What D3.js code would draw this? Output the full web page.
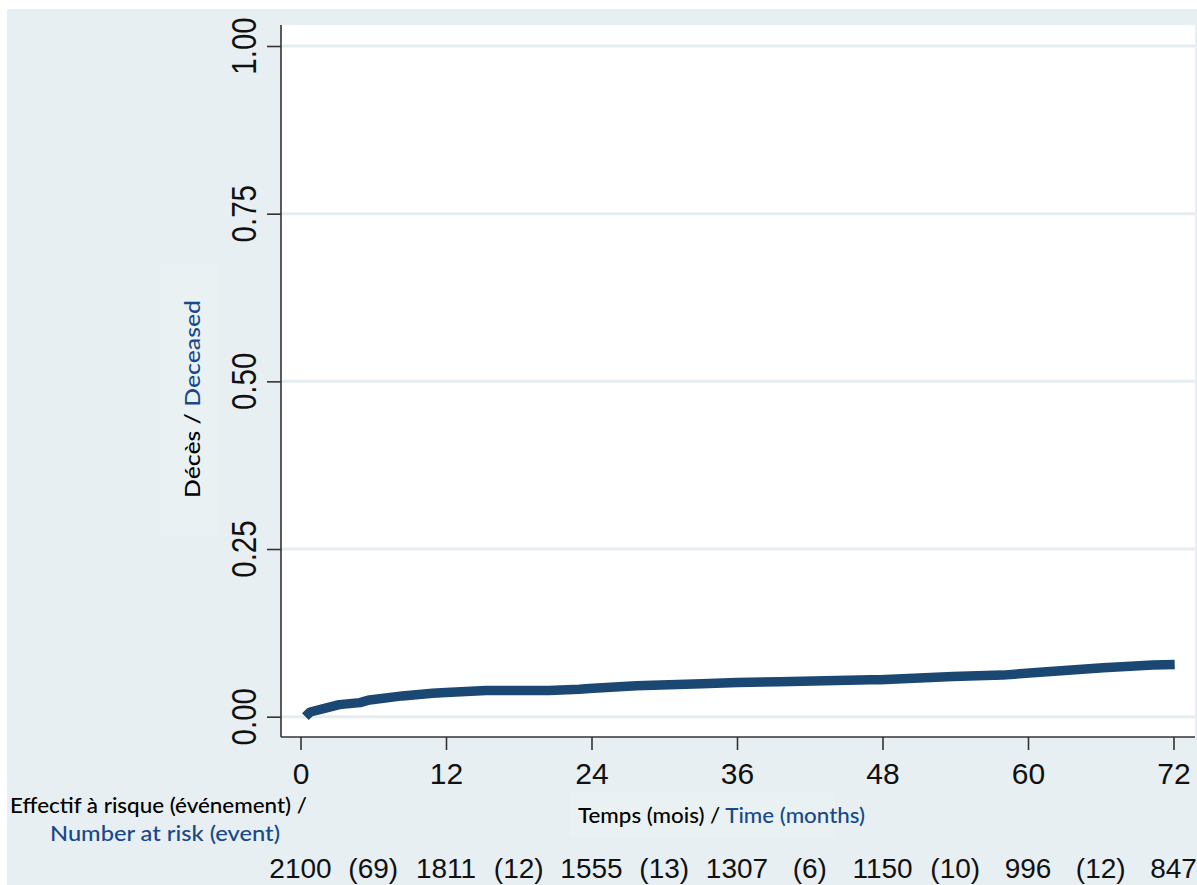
<!DOCTYPE html>
<html>
<head>
<meta charset="utf-8">
<script src="https://cdn.jsdelivr.net/npm/d3@7"></script>
<style>
  body { margin: 0; background: #fff; }
  svg { display: block; }
</style>
</head>
<body>
<div id="chart"></div>
<script>
// Cumulative incidence (months, proportion deceased)
const months = [0.4, 0.8, 1.9, 3.2, 4.9, 5.7, 8.4, 10.9, 12.0, 15.3, 20.5, 23.0, 23.8, 27.7,
  33.1, 36.0, 39.5, 47.0, 47.8, 53.8, 57.9, 60.7, 66.2, 70.3, 72.1];
const deceased = [0.000, 0.007, 0.012, 0.018, 0.021, 0.025, 0.031, 0.035, 0.036, 0.039, 0.039,
  0.041, 0.042, 0.046, 0.049, 0.051, 0.052, 0.055, 0.055, 0.060, 0.062, 0.066, 0.073, 0.077, 0.078];

// Risk table
const xTicks = [0, 12, 24, 36, 48, 60, 72];
const atRisk = [2100, 1811, 1555, 1307, 1150, 996, 847];
const events = [69, 12, 13, 6, 10, 12];
const yTicks = [0, 0.25, 0.5, 0.75, 1];

const width = 1197;
const height = 885;
const bg = "#e8eff2";
const blue = "#17488a";
const lineColor = "#1b4872";
const sans = "Lato, 'Open Sans', sans-serif";
const arial = "'Liberation Sans', Arial, sans-serif";

const svg = d3.select("#chart")
  .append("svg")
  .attr("width", width)
  .attr("height", height);

// Outer background and plot region
svg.append("rect")
  .attr("x", 7).attr("y", 9)
  .attr("width", width - 7).attr("height", height - 9)
  .attr("fill", bg);

const plot = { left: 281, right: 1195, top: 25, bottom: 737 };

svg.append("rect")
  .attr("x", plot.left).attr("y", plot.top)
  .attr("width", plot.right - plot.left)
  .attr("height", plot.bottom - plot.top)
  .attr("fill", "#fff");

// Scales
const x = d3.scaleLinear().domain([0, 72]).range([300.5, 1173.5]);
const y = d3.scaleLinear().domain([0, 1]).range([716.7, 46]);

// Gridlines
svg.append("g")
  .selectAll("line")
  .data(yTicks)
  .enter()
  .append("line")
  .attr("x1", plot.left)
  .attr("x2", plot.right)
  .attr("y1", (d) => y(d))
  .attr("y2", (d) => y(d))
  .attr("stroke", "#e5edf0")
  .attr("stroke-width", 3);

// X axis
const xAxis = d3.axisBottom(x)
  .tickValues(xTicks)
  .tickSize(13)
  .tickPadding(13)
  .tickFormat(d3.format("d"));

const gx = svg.append("g")
  .attr("transform", `translate(0, ${plot.bottom})`)
  .call(xAxis);
gx.select(".domain").remove();
gx.selectAll(".tick line").attr("stroke", "#333").attr("stroke-width", 1.6);
gx.selectAll(".tick text")
  .attr("fill", "#111")
  .style("font-family", arial)
  .style("font-size", "30px");

// Y axis (ticks only, labels rotated like the original)
const yAxis = d3.axisLeft(y)
  .tickValues(yTicks)
  .tickSize(14)
  .tickFormat("");

const gy = svg.append("g")
  .attr("transform", `translate(${plot.left}, 0)`)
  .call(yAxis);
gy.select(".domain").remove();
gy.selectAll(".tick line").attr("stroke", "#333").attr("stroke-width", 1.6);

svg.append("g")
  .selectAll("text")
  .data(yTicks)
  .enter()
  .append("text")
  .attr("transform", (d) => `translate(256, ${y(d)}) rotate(-90) scale(1, 1.2)`)
  .attr("text-anchor", "middle")
  .attr("fill", "#111")
  .style("font-family", arial)
  .style("font-size", "29.5px")
  .text((d) => d3.format(".2f")(d));

// Axis lines
svg.append("line")
  .attr("x1", plot.left).attr("x2", plot.left)
  .attr("y1", plot.top).attr("y2", plot.bottom)
  .attr("stroke", "#333").attr("stroke-width", 1.6);
svg.append("line")
  .attr("x1", plot.left).attr("x2", plot.right)
  .attr("y1", plot.bottom).attr("y2", plot.bottom)
  .attr("stroke", "#333").attr("stroke-width", 1.6);

// Curve
const points = months.map((m, i) => [m, deceased[i]]);
const line = d3.line()
  .x((d) => x(d[0]))
  .y((d) => y(d[1]));

svg.append("path")
  .datum(points)
  .attr("d", line)
  .attr("fill", "none")
  .attr("stroke", lineColor)
  .attr("stroke-width", 9.5)
  .attr("stroke-linejoin", "round");

// Y title
svg.append("rect")
  .attr("x", 160).attr("y", 265)
  .attr("width", 58).attr("height", 270)
  .attr("fill", "#eaf1f3");

const yTitle = svg.append("text")
  .attr("transform", "translate(200, 300) rotate(-90)")
  .attr("x", -198)
  .attr("textLength", 198)
  .attr("lengthAdjust", "spacingAndGlyphs")
  .style("font-family", sans)
  .style("font-size", "22px")
  .style("font-weight", 500);
yTitle.append("tspan").attr("fill", "#000").text("Décès / ");
yTitle.append("tspan").attr("fill", blue).text("Deceased");

// X title
svg.append("rect")
  .attr("x", 570).attr("y", 792)
  .attr("width", 265).attr("height", 46)
  .attr("fill", "#eaf1f3");

const xTitle = svg.append("text")
  .attr("x", 578).attr("y", 823)
  .attr("textLength", 287)
  .attr("lengthAdjust", "spacingAndGlyphs")
  .style("font-family", sans)
  .style("font-size", "21.5px")
  .style("font-weight", 500);
xTitle.append("tspan").attr("fill", "#000").text("Temps (mois) / ");
xTitle.append("tspan").attr("fill", blue).text("Time (months)");

// Risk table title
svg.append("text")
  .attr("x", 10).attr("y", 813)
  .attr("textLength", 297)
  .attr("lengthAdjust", "spacingAndGlyphs")
  .attr("fill", "#000")
  .style("font-family", sans)
  .style("font-size", "21px")
  .style("font-weight", 500)
  .text("Effectif à risque (événement) /");

svg.append("text")
  .attr("x", 50).attr("y", 841)
  .attr("textLength", 230)
  .attr("lengthAdjust", "spacingAndGlyphs")
  .attr("fill", blue)
  .style("font-family", sans)
  .style("font-size", "21px")
  .style("font-weight", 500)
  .text("Number at risk (event)");

// Risk table numbers
svg.append("g")
  .selectAll("text")
  .data(atRisk)
  .enter()
  .append("text")
  .attr("x", (d, i) => x(xTicks[i]))
  .attr("y", 878)
  .attr("text-anchor", "middle")
  .attr("fill", "#111")
  .style("font-family", arial)
  .style("font-size", "28px")
  .text((d) => d);

svg.append("g")
  .selectAll("text")
  .data(events)
  .enter()
  .append("text")
  .attr("x", (d, i) => x(xTicks[i] + 6))
  .attr("y", 878)
  .attr("text-anchor", "middle")
  .attr("fill", "#111")
  .style("font-family", arial)
  .style("font-size", "28px")
  .text((d) => `(${d})`);
</script>
</body>
</html>
